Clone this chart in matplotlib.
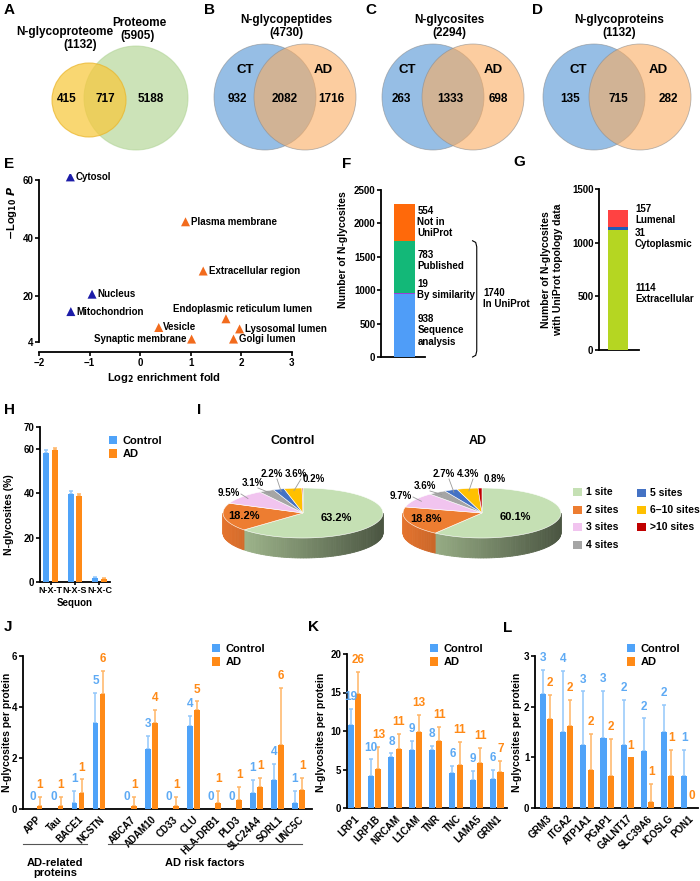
import numpy as np
import matplotlib
matplotlib.use('Agg')
import matplotlib.pyplot as plt
from matplotlib.patches import Ellipse, Polygon, Rectangle
from matplotlib.colors import to_rgb

# ------------------------------------------------------------------ data
A_names = ['N-glycoproteome', 'Proteome']
A_totals = [1132, 5905]
A_counts = [415, 717, 5188]

venn_titles = ['N-glycopeptides', 'N-glycosites', 'N-glycoproteins']
venn_totals = [4730, 2294, 1132]
venn_counts = [[932, 2082, 1716], [263, 1333, 698], [135, 715, 282]]
venn_groups = ['CT', 'AD']

E_terms = ['Cytosol', 'Nucleus', 'Mitochondrion', 'Plasma membrane', 'Extracellular region',
           'Endoplasmic reticulum lumen', 'Vesicle', 'Lysosomal lumen', 'Synaptic membrane', 'Golgi lumen']
E_fold = [-1.38, -0.95, -1.37, 0.90, 1.25, 1.70, 0.37, 1.97, 1.02, 1.85]
E_logp = [61.0, 20.5, 14.5, 45.5, 28.5, 12.0, 9.0, 8.5, 5.0, 5.0]

F_cats = ['Sequence\nanalysis', 'By similarity', 'Published', 'Not in\nUniProt']
F_vals = [938, 19, 783, 554]
F_inuniprot = 1740

G_cats = ['Extracellular', 'Cytoplasmic', 'Lumenal']
G_vals = [1114, 31, 157]

H_sequons = ['N-X-T', 'N-X-S', 'N-X-C']
H_ctrl = [58.3, 39.6, 1.9]
H_ctrl_err = [1.2, 1.5, 0.5]
H_ad = [59.5, 38.9, 1.5]
H_ad_err = [0.8, 0.8, 0.3]

I_labels = ['1 site', '2 sites', '3 sites', '4 sites', '5 sites', '6–10 sites', '>10 sites']
I_ctrl = [63.2, 18.2, 9.5, 3.1, 2.2, 3.6, 0.2]
I_ad = [60.1, 18.8, 9.7, 3.6, 2.7, 4.3, 0.8]

J_prot = ['APP', 'Tau', 'BACE1', 'NCSTN', 'ABCA7', 'ADAM10', 'CD33', 'CLU', 'HLA-DRB1',
          'PLD3', 'SLC24A4', 'SORL1', 'UNC5C']
J_ctrl = [0, 0, 0.25, 3.37, 0, 2.37, 0, 3.25, 0, 0, 0.62, 1.12, 0.25]
J_ctrl_err = [0, 0, 0.46, 1.19, 0, 0.51, 0, 0.40, 0, 0, 0.51, 0.66, 0.46]
J_ad = [0.12, 0.12, 0.62, 4.50, 0.12, 3.37, 0.12, 3.87, 0.25, 0.37, 0.87, 2.50, 0.75]
J_ad_err = [0.36, 0.36, 0.54, 0.92, 0.36, 0.51, 0.36, 0.35, 0.46, 0.50, 0.35, 2.25, 0.47]
J_ctrl_n = [0, 0, 1, 5, 0, 3, 0, 4, 0, 0, 1, 4, 1]
J_ad_n = [1, 1, 1, 6, 1, 4, 1, 5, 1, 1, 1, 6, 1]
J_groups = ['AD-related\nproteins', 'AD risk factors']

K_prot = ['LRP1', 'LRP1B', 'NRCAM', 'L1CAM', 'TNR', 'TNC', 'LAMA5', 'GRIN1']
K_ctrl = [10.8, 4.1, 6.6, 7.5, 7.5, 4.6, 3.7, 3.8]
K_ctrl_err = [2.1, 2.2, 0.5, 1.2, 0.6, 0.9, 1.1, 1.2]
K_ad = [14.8, 5.1, 7.7, 9.9, 8.7, 5.6, 5.8, 4.7]
K_ad_err = [2.9, 2.8, 1.95, 2.2, 1.8, 3.0, 2.0, 1.4]
K_ctrl_n = [19, 10, 8, 9, 8, 6, 9, 6]
K_ad_n = [26, 13, 11, 13, 11, 11, 11, 7]

L_prot = ['GRM3', 'ITGA2', 'ATP1A1', 'PGAP1', 'GALNT17', 'SLC39A6', 'ICOSLG', 'PON1']
L_ctrl = [2.25, 1.50, 1.25, 1.375, 1.25, 1.12, 1.50, 0.625]
L_ctrl_err = [0.47, 1.20, 1.05, 0.93, 0.88, 0.65, 0.54, 0.52]
L_ad = [1.75, 1.62, 0.75, 0.625, 1.0, 0.12, 0.625, 0]
L_ad_err = [0.48, 0.51, 0.71, 0.74, 0, 0.36, 0.52, 0]
L_ctrl_n = [3, 4, 3, 3, 2, 2, 2, 1]
L_ad_n = [2, 2, 2, 2, 1, 1, 1, 0]

# ------------------------------------------------------------------ style
W, H = 700, 881
BLUE, ORANGE = '#4fa3f9', '#ff8a17'
BLUE_E, ORANGE_E = '#93c7fb', '#ffb566'
BLUE_T, ORANGE_T = '#5eaaf4', '#ff8a17'
PIE_COL = ['#c5e0b4', '#ed7d31', '#f1c4ef', '#a5a5a5', '#4472c4', '#ffc000', '#c00000']
PIE_SIDE = ['#7d8f6e', '#a85522', '#b38fb0', '#7a7a7a', '#2f5597', '#bf9000', '#900000']

plt.rcParams['font.family'] = ['Liberation Sans', 'DejaVu Sans']
plt.rcParams['font.weight'] = 'bold'
plt.rcParams['axes.labelweight'] = 'bold'
plt.rcParams['axes.linewidth'] = 1.3
plt.rcParams['mathtext.default'] = 'bf'

fig = plt.figure(figsize=(W / 100, H / 100), dpi=100)


def pax(x0, y0, x1, y1):
    return fig.add_axes([x0 / W, 1 - y1 / H, (x1 - x0) / W, (y1 - y0) / H])


def px2ax(ax, xpx, ypx):
    b = ax.get_position()
    return ((xpx / W - b.x0) / b.width, ((1 - ypx / H) - b.y0) / b.height)


def ylab(ax, s, xpx, ypx, fs=8):
    ax.set_ylabel(s, fontsize=fs, va='center', ha='center')
    ax.yaxis.set_label_coords(*px2ax(ax, xpx, ypx))


def xlab(ax, s, xpx, ypx, fs=8):
    ax.set_xlabel(s, fontsize=fs, va='center', ha='center')
    ax.xaxis.set_label_coords(*px2ax(ax, xpx, ypx))


def style(ax, fs=7):
    for s in ['top', 'right']:
        ax.spines[s].set_visible(False)
    ax.patch.set_alpha(0)
    ax.tick_params(length=2.8, width=1.2, labelsize=fs, pad=1.2)


def legend(ax, xpx, ypx, fs=8):
    ax.legend(loc='upper left', bbox_to_anchor=(xpx / W, 1 - ypx / H),
              bbox_transform=fig.transFigure, frameon=False, fontsize=fs,
              borderpad=0, borderaxespad=0, handlelength=0.75, handleheight=0.75,
              handletextpad=0.5, labelspacing=0.3)


def grouped(ax, pos, c, ce, a, ae, cn, an, w, off, fs=8.5, lab_off=8.5):
    pos = np.asarray(pos, float)
    ax.bar(pos - off, c, w, color=BLUE, label='Control', zorder=3)
    ax.bar(pos + off, a, w, color=ORANGE, label='AD', zorder=3)
    for xs, m, e, ec in [(pos - off, c, ce, BLUE_E), (pos + off, a, ae, ORANGE_E)]:
        for x, mm, ee in zip(xs, m, e):
            if ee > 0:
                ax.errorbar(x, mm, yerr=[[0], [ee]], fmt='none', ecolor=ec, elinewidth=1.1,
                            capsize=1.6, capthick=1.1, zorder=2)
    if cn is not None:
        for xs, m, e, n, col in [(pos - off, c, ce, cn, BLUE_T), (pos + off, a, ae, an, ORANGE_T)]:
            for x, mm, ee, nn in zip(xs, m, e, n):
                ax.annotate(str(nn), (x, mm + ee), xytext=(0, lab_off), textcoords='offset points',
                            ha='center', va='center', color=col, fontsize=fs, fontweight='bold',
                            annotation_clip=False)


# overlay in pixel coordinates for panel letters / venn / pies
ov = fig.add_axes([0, 0, 1, 1], zorder=10)
ov.set_xlim(0, W)
ov.set_ylim(H, 0)
ov.axis('off')
ov.patch.set_visible(False)

for letter, (x, y) in zip('ABCDEFGHIJKL',
                          [(4, 3), (204, 3), (365, 3), (532, 3), (4, 157), (342, 157), (513, 155),
                           (4, 403), (197, 403), (4, 620), (308, 620), (503, 621)]):
    ov.text(x, y, letter, fontsize=11, fontweight='bold', ha='left', va='top')

# ------------------------------------------------------------------ A : venn
ov.add_patch(Ellipse((136, 98), 104, 104, fc='#9bc973', alpha=0.5, ec='#a9cf8d', lw=0.8))
ov.add_patch(Ellipse((89, 100), 74, 74, fc='#f8c83c', alpha=0.72, ec='#eab52a', lw=0.8))
ov.text(65, 32, A_names[0], fontsize=8.5, ha='center', va='center')
ov.text(80, 45, f'({A_totals[0]})', fontsize=8.5, ha='center', va='center')
ov.text(139, 23, A_names[1], fontsize=8.5, ha='center', va='center')
ov.text(138, 36, f'({A_totals[1]})', fontsize=8.5, ha='center', va='center')
for x, n in zip([67, 105, 151], A_counts):
    ov.text(x, 99, str(n), fontsize=8.5, ha='center', va='center')

# ------------------------------------------------------------------ B,C,D : venns
venn_geo = [(265, 305, 286, [245, 323], [237, 285, 331]),
            (433, 473, 449, [407, 493], [401, 450, 498]),
            (594, 640, 619, [578, 658], [570, 618, 668])]
for (bx, ox, tx, gx, nx), title, tot, cnt in zip(venn_geo, venn_titles, venn_totals, venn_counts):
    ov.add_patch(Ellipse((bx, 97), 102, 106, fc='#5093d5', alpha=0.6, ec='#8a8a8a', lw=0.6))
    ov.add_patch(Ellipse((ox, 97), 102, 106, fc='#faac61', alpha=0.6, ec='#8a8a8a', lw=0.6))
    ov.text(tx, 20, title, fontsize=8.5, ha='center', va='center')
    ov.text(tx, 33, f'({tot})', fontsize=8.5, ha='center', va='center')
    for x, g in zip(gx, venn_groups):
        ov.text(x, 70, g, fontsize=9.5, ha='center', va='center')
    for x, n in zip(nx, cnt):
        ov.text(x, 99, str(n), fontsize=8.5, ha='center', va='center')

# ------------------------------------------------------------------ E : scatter
axE = pax(39, 174, 327, 352)
style(axE)
axE.set_xlim(-2, 3.7)
axE.set_ylim(0.54, 62)
cols = ['#1c1ca8' if f < 0 else '#f26b1d' for f in E_fold]
axE.scatter(E_fold, E_logp, marker='^', s=42, c=cols, zorder=3, linewidths=0)
E_offsets = [(4, 0), (4, 0), (4, 0), (4, 0), (4, 0), (12, 7), (3, 0), (4, 0), (-4, 0), (4, 0)]
E_ha = ['left'] * 5 + ['center', 'left', 'left', 'right', 'left']
for t, x, y, o, ha in zip(E_terms, E_fold, E_logp, E_offsets, E_ha):
    axE.annotate(t, (x, y), xytext=o, textcoords='offset points', ha=ha, va='center', fontsize=7)
axE.set_xticks([-2, -1, 0, 1, 2, 3])
axE.set_yticks([4, 20, 40, 60])
axE.spines['left'].set_bounds(4, 60)
axE.spines['bottom'].set_bounds(-2, 3)
ylab(axE, r'$-$Log$_{10}$ $\mathbfit{P}$', 12, 213, fs=8)
xlab(axE, r'Log$_{2}$ enrichment fold', 164, 378, fs=8)

# ------------------------------------------------------------------ F : stacked bar
axF = pax(381, 190, 425, 357)
style(axF)
axF.set_xlim(-1.12, 0.98)
axF.set_ylim(0, 2500)
F_colors = ['#4f9df8', '#9b3fd6', '#13b878', '#ff690a']
bottom = 0
F_nudge = [-70, 60, 100, 0]
for v, c, lab, nud in zip(F_vals, F_colors, F_cats, F_nudge):
    axF.bar(0, v, 1.0, bottom=bottom, color=c, zorder=3)
    axF.text(0.62, bottom + v / 2 + nud, f'{v}\n{lab}', fontsize=7, ha='left', va='center',
             linespacing=1.15, clip_on=False)
    bottom += v
axF.set_yticks([0, 500, 1000, 1500, 2000, 2500])
axF.set_xticks([])
axF.plot([3.25, 3.40, 3.45, 3.45, 3.40, 3.25], [F_inuniprot, 1715, 1650, 90, 25, 0],
         color='black', lw=0.8, clip_on=False)
axF.text(3.75, F_inuniprot / 2, f'{F_inuniprot}\nIn UniProt', fontsize=7, ha='left', va='center',
         linespacing=1.15, clip_on=False)
ylab(axF, 'Number of N-glycosites', 343, 250, fs=7.5)

# ------------------------------------------------------------------ G : stacked bar
axG = pax(599, 189, 639, 350)
style(axG)
axG.set_xlim(-0.95, 1.05)
axG.set_ylim(0, 1500)
G_colors = ['#b5d622', '#1f5ab8', '#ff4242']
G_nudge = [-30, -90, 40]
bottom = 0
for v, c, lab, nud in zip(G_vals, G_colors, G_cats, G_nudge):
    axG.bar(0, v, 1.0, bottom=bottom, color=c, zorder=3)
    axG.text(0.85, bottom + v / 2 + nud, f'{v}\n{lab}', fontsize=7, ha='left', va='center',
             linespacing=1.15, clip_on=False)
    bottom += v
axG.set_yticks([0, 500, 1000, 1500])
axG.set_xticks([])
ylab(axG, 'Number of N-glycosites\nwith UniProt topology data', 552, 270, fs=7.5)

# ------------------------------------------------------------------ H : sequon bars
axH = pax(40, 427, 110, 582)
style(axH)
axH.set_xlim(-0.43, 2.43)
axH.set_ylim(0, 70)
grouped(axH, np.arange(3), H_ctrl, H_ctrl_err, H_ad, H_ad_err, None, None, 0.25, 0.18)
axH.set_yticks([0, 20, 40, 60, 70])
axH.set_xticks(np.arange(3))
axH.set_xticklabels(H_sequons, fontsize=6.5)
axH.tick_params(axis='x', length=2)
ylab(axH, 'N-glycosites (%)', 9, 515, fs=7.5)
xlab(axH, 'Sequon', 75, 603, fs=7)
legend(axH, 109, 436, fs=8)

# ------------------------------------------------------------------ I : 3D pies


def pie3d(vals, cx, cy, a, b, h, outside, inner_r):
    fr = np.asarray(vals, float)
    fr = fr / fr.sum()
    cum = np.concatenate([[0], np.cumsum(fr)])
    st = 90 - 360 * cum[:-1]
    en = 90 - 360 * cum[1:]

    def pt(t, r=1.0, dy=0.0):
        rr = np.radians(t)
        return (cx + r * a * np.cos(rr), cy - r * b * np.sin(rr) + dy)

    for i in range(len(fr)):
        lo, hi = max(en[i], -180), min(st[i], 0)
        if hi <= lo:
            continue
        ts = np.linspace(lo, hi, int((hi - lo) // 2) + 2)
        base = np.array(to_rgb(PIE_SIDE[i]))
        for t0, t1 in zip(ts[:-1], ts[1:]):
            c = np.cos(np.radians((t0 + t1) / 2))
            col = np.clip(base * (0.98 - 0.38 * c), 0, 1)
            poly = [pt(t0), pt(t1), pt(t1, dy=h), pt(t0, dy=h)]
            ov.add_patch(Polygon(poly, closed=True, fc=col, ec=col, lw=0.6))
    for i in range(len(fr)):
        ts = np.linspace(en[i], st[i], max(3, int(st[i] - en[i]) + 2))
        poly = [(cx, cy)] + [pt(t) for t in ts]
        ov.add_patch(Polygon(poly, closed=True, fc=PIE_COL[i], ec='white', lw=0.4))
    for i in range(len(fr)):
        mid = (st[i] + en[i]) / 2
        label = f'{vals[i]}%'
        if inner_r[i] is not None:
            x, y = pt(mid, inner_r[i])
            ov.text(x, y, label, fontsize=8, ha='center', va='center')
        else:
            dx, dy = outside[i]
            lx, ly = cx + dx, cy + dy
            ov.text(lx, ly, label, fontsize=7, ha='center', va='center')
            if i == 2:
                sx, sy = lx + 12, ly + 1
            elif i < len(fr) - 1:
                sx, sy = lx + 5, ly + 5
            else:
                continue
            ex, ey = pt(mid, 0.9)
            ov.plot([sx, ex], [sy, ey], color='#9a9a9a', lw=0.6)


I_inner = [0.45, 0.75, None, None, None, None, None]
I_out_ctrl = [None, None, (-74, -20), (-50, -30), (-31, -39), (-7, -39), (11, -34)]
I_out_ad = [None, None, (-81, -17), (-57, -27), (-38, -39), (-14, -39), (13, -34)]
pie3d(I_ctrl, 303, 513, 80, 25, 20, I_out_ctrl, I_inner)
pie3d(I_ad, 482, 513, 79, 25, 20, I_out_ad, I_inner)
ov.text(293, 441, 'Control', fontsize=9, ha='center', va='center')
ov.text(478, 441, 'AD', fontsize=9, ha='center', va='center')
I_leg_pos = [(577, 492), (577, 510), (577, 527), (577, 545), (641, 493), (641, 510), (641, 527)]
for (x, y), lab, col in zip(I_leg_pos, I_labels, PIE_COL):
    ov.add_patch(Rectangle((x - 4.5, y - 4), 9, 8, fc=col, ec='none'))
    ov.text(x + 9, y, lab, fontsize=7.5, ha='left', va='center')

# ------------------------------------------------------------------ J
axJ = pax(23, 656, 312, 809)
style(axJ)
J_pos = np.array([0, 1, 2, 3, 4.5, 5.5, 6.5, 7.5, 8.5, 9.5, 10.5, 11.5, 12.5])
axJ.set_xlim(-0.62, 13.14)
axJ.set_ylim(0, 6)
grouped(axJ, J_pos, J_ctrl, J_ctrl_err, J_ad, J_ad_err, J_ctrl_n, J_ad_n, 0.27, 0.17)
axJ.set_yticks([0, 2, 4, 6])
axJ.set_xticks(J_pos)
axJ.set_xticklabels(J_prot, rotation=45, ha='right', va='top', rotation_mode='anchor', fontsize=7)
axJ.tick_params(axis='x', length=0, pad=4)
ylab(axJ, 'N-glycosites per protein', 7, 732, fs=7.5)
legend(axJ, 212, 644, fs=8)
ov.plot([23, 87], [844, 844], color='#555555', lw=0.8)
ov.plot([108, 302], [844, 844], color='#555555', lw=0.8)
ov.text(55, 868, J_groups[0], fontsize=8, ha='center', va='center', linespacing=1.0)
ov.text(205, 863, J_groups[1], fontsize=8, ha='center', va='center')

# ------------------------------------------------------------------ K
axK = pax(347, 654, 507, 808)
style(axK)
K_pos = np.arange(len(K_prot))
axK.set_xlim(-0.36, 7.5)
axK.set_ylim(0, 20)
grouped(axK, K_pos, K_ctrl, K_ctrl_err, K_ad, K_ad_err, K_ctrl_n, K_ad_n, 0.3, 0.18)
axK.set_yticks([0, 5, 10, 15, 20])
axK.set_xticks(K_pos)
axK.set_xticklabels(K_prot, rotation=45, ha='right', va='top', rotation_mode='anchor', fontsize=7)
axK.tick_params(axis='x', length=0, pad=4)
ylab(axK, 'N-glycosites per protein', 321, 732, fs=7.5)
legend(axK, 430, 644, fs=8)

# ------------------------------------------------------------------ L
axL = pax(535, 656, 698, 808)
style(axL)
L_pos = np.arange(len(L_prot))
axL.set_xlim(-0.57, 7.5)
axL.set_ylim(0, 3)
grouped(axL, L_pos, L_ctrl, L_ctrl_err, L_ad, L_ad_err, L_ctrl_n, L_ad_n, 0.3, 0.18)
axL.set_yticks([0, 1, 2, 3])
axL.set_xticks(L_pos)
axL.set_xticklabels(L_prot, rotation=45, ha='right', va='top', rotation_mode='anchor', fontsize=7)
axL.tick_params(axis='x', length=0, pad=4)
ylab(axL, 'N-glycosites per protein', 517, 732, fs=7.5)
legend(axL, 627, 644, fs=8)

fig.savefig('out.png', dpi=100)
